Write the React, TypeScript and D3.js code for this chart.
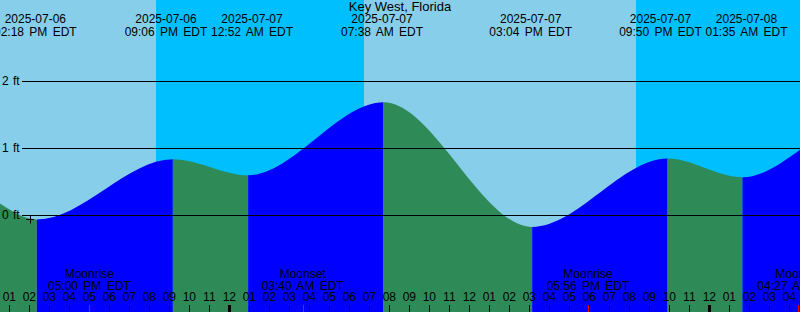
import React from "react";
import * as d3 from "d3";

const W = 800;
const H = 312;

const title = "Key West, Florida";
const viewStart = "2025-07-06 12:32";
const viewEnd = "2025-07-08 04:32";

const extremeTimes = ["2025-07-06 14:18", "2025-07-06 21:06", "2025-07-07 00:52", "2025-07-07 07:38", "2025-07-07 15:04", "2025-07-07 21:50", "2025-07-08 01:35"];
const extremeHeights = [-0.06, 0.84, 0.6, 1.69, -0.17, 0.85, 0.57];
const edgeTimes = ["2025-07-06 12:27", "2025-07-08 04:33"];
const edgeHeights = [0.18, 1.0];

const nightStarts = ["2025-07-06 20:20", "2025-07-07 20:20"];
const nightEnds = ["2025-07-07 06:44", "2025-07-08 04:40"];

const moonTimes = ["2025-07-06 17:00", "2025-07-07 03:40", "2025-07-07 17:56", "2025-07-08 04:27"];
const moonKinds = ["Moonrise", "Moonset", "Moonrise", "Moonset"];

const yTicks = [0, 1, 2];
const nowTime = "2025-07-06 14:02";
const nowHeight = -0.06;

const parse = d3.timeParse("%Y-%m-%d %H:%M");
const fmtDate = d3.timeFormat("%Y-%m-%d");
const fmtTime = d3.timeFormat("%I:%M %p EDT");
const fmtHour = d3.timeFormat("%I");

const FONT = "'Liberation Sans', Arial, sans-serif";
const DAY = "#87CEEB";
const NIGHT = "#00BFFF";
const FALL = "#2E8B57";
const RISE = "#0000FF";

export default function App() {
  const x = d3.scaleTime().domain([parse(viewStart)!, parse(viewEnd)!]).range([0, W]);
  const y = d3.scaleLinear().domain([0, 2]).range([215.5, 81.5]);
  const shift = 1.5;
  const xt = (d: Date) => x(d) + shift;

  const pts: { t: Date; v: number }[] = [
    { t: parse(edgeTimes[0])!, v: edgeHeights[0] },
    ...extremeTimes.map((s, i) => ({ t: parse(s)!, v: extremeHeights[i] })),
    { t: parse(edgeTimes[1])!, v: edgeHeights[1] },
  ];

  const area = d3
    .area<{ t: Date; v: number }>()
    .x((d) => xt(d.t))
    .y0(H)
    .y1((d) => y(d.v))
    .curve(d3.curveMonotoneX);

  // bands between extremes
  const bounds = pts.map((p) => p.t);
  const bands = bounds.slice(0, -1).map((t0, i) => {
    const t1 = bounds[i + 1];
    const rising = pts[i + 1].v > pts[i].v;
    return { x0: xt(t0), x1: xt(t1), fill: rising ? RISE : FALL };
  });

  // top labels with overlap resolution
  const minSep = 86;
  const lx = extremeTimes.map((s) => x(parse(s)!));
  for (let i = 0; i < lx.length - 1; i++) {
    const diff = lx[i + 1] - lx[i];
    if (diff < minSep) {
      const d = (minSep - diff) / 2;
      lx[i] -= d;
      lx[i + 1] += d;
    }
  }

  const hours = d3.timeHour.range(parse(viewStart)!, parse(viewEnd)!);

  const nx = x(parse(nowTime)!);
  const ny = y(nowHeight);

  return (
    <svg
      width={W}
      height={H}
      style={{ position: "absolute", left: 0, top: 0, display: "block" }}
      fontFamily={FONT}
      fontSize={12}
    >
      <defs>
        <clipPath id="tideClip">
          <path d={area(pts) || ""} />
        </clipPath>
      </defs>
      <rect x={0} y={0} width={W} height={H} fill={DAY} />
      {nightStarts.map((s, i) => (
        <rect
          key={"n" + i}
          x={x(parse(s)!)}
          y={0}
          width={x(parse(nightEnds[i])!) - x(parse(s)!)}
          height={H}
          fill={NIGHT}
        />
      ))}
      <g clipPath="url(#tideClip)">
        {bands.map((b, i) => (
          <rect key={"b" + i} x={b.x0} y={0} width={b.x1 - b.x0} height={H} fill={b.fill} />
        ))}
      </g>

      {/* title */}
      <text x={400} y={11} textAnchor="middle" fontSize={13}>
        {title}
      </text>

      {/* tide labels */}
      {extremeTimes.map((s, i) => {
        const d = parse(s)!;
        return (
          <g key={"l" + i}>
            <text x={lx[i]} y={23} textAnchor="middle">
              {fmtDate(d)}
            </text>
            <text x={lx[i]} y={35.5} textAnchor="middle" wordSpacing={2}>
              {fmtTime(d)}
            </text>
          </g>
        );
      })}

      {/* y grid */}
      {yTicks.map((v) => (
        <g key={"y" + v}>
          <line x1={22} x2={W} y1={y(v)} y2={y(v)} stroke="#000" strokeWidth={1} />
          <text x={2} y={y(v) + 3} textAnchor="start" wordSpacing={1}>
            {v + " ft"}
          </text>
        </g>
      ))}

      {/* now marker */}
      <line x1={nx - 4} x2={nx + 4} y1={ny} y2={ny} stroke="#000" />
      <line x1={Math.round(nx) + 0.5} x2={Math.round(nx) + 0.5} y1={ny - 3.5} y2={ny + 4} stroke="#000" />

      {/* moon labels */}
      {moonTimes.map((s, i) => {
        const d = parse(s)!;
        return (
          <g key={"m" + i}>
            <text x={x(d)} y={278} textAnchor="middle">
              {moonKinds[i]}
            </text>
            <text x={x(d)} y={289.5} textAnchor="middle" wordSpacing={2}>
              {fmtTime(d)}
            </text>
          </g>
        );
      })}

      {/* hour ticks + labels */}
      {hours.map((h, i) => {
        const hx = Math.round(x(h));
        const midnight = h.getHours() === 0;
        return (
          <g key={"h" + i}>
            <rect x={midnight ? hx - 1 : hx} y={305} width={midnight ? 3 : 1} height={7} fill="#000" />
            <text x={x(h)} y={301} textAnchor="middle">
              {fmtHour(h)}
            </text>
          </g>
        );
      })}
      {moonTimes.map((s, i) => (
        <rect key={"mt" + i} x={Math.round(x(parse(s)!))} y={305} width={1} height={7} fill="#FF0000" />
      ))}
    </svg>
  );
}
